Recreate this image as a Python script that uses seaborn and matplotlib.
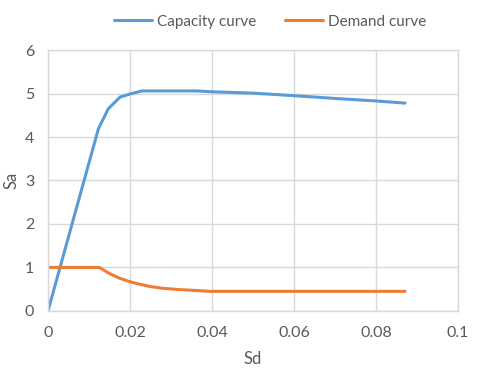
import matplotlib
matplotlib.use("Agg")
import matplotlib.pyplot as plt
import seaborn as sns
import pandas as pd

cap_sd = [0.0, 0.0123, 0.0147, 0.0176, 0.0200, 0.0229, 0.0300, 0.0363, 0.0400, 0.0500, 0.0602, 0.0712, 0.0800, 0.0871]
cap_sa = [0.0, 4.19, 4.65, 4.92, 4.99, 5.06, 5.06, 5.06, 5.04, 5.01, 4.95, 4.88, 4.83, 4.78]

dem_sd = [0.0, 0.0125, 0.0150, 0.0175, 0.0200, 0.0225, 0.0250, 0.0280, 0.0320, 0.0360, 0.0395, 0.0500, 0.0700, 0.0871]
dem_sa = [1.0, 1.0, 0.86, 0.75, 0.67, 0.61, 0.56, 0.52, 0.49, 0.47, 0.45, 0.45, 0.45, 0.45]

labels = ["Capacity curve", "Demand curve"]
colors = ["#5B9BD5", "#ED7D31"]

df = pd.concat([
    pd.DataFrame({"Sd": cap_sd, "Sa": cap_sa, "curve": labels[0]}),
    pd.DataFrame({"Sd": dem_sd, "Sa": dem_sa, "curve": labels[1]}),
])

sns.set_theme(style="whitegrid")
plt.rcParams["font.family"] = ["Lato", "DejaVu Sans"]
txt = "#595959"

fig = plt.figure(figsize=(4.8, 3.71), dpi=100)
ax = fig.add_axes([0.1, 0.162, 0.854, 0.703])
sns.lineplot(data=df, x="Sd", y="Sa", hue="curve", palette=colors, linewidth=2.2,
             sort=False, estimator=None, ax=ax)

ax.set_xlim(0, 0.1)
ax.set_ylim(0, 6)
ax.set_xticks([0, 0.02, 0.04, 0.06, 0.08, 0.1])
ax.set_xticklabels(["0", "0.02", "0.04", "0.06", "0.08", "0.1"])
ax.set_yticks(range(0, 7))
ax.tick_params(axis="x", colors=txt, labelsize=11.5, length=0, pad=11)
ax.tick_params(axis="y", colors=txt, labelsize=11.5, length=0, pad=10)
ax.grid(True, color="#d9d9d9", linewidth=1)
for s in ax.spines.values():
    s.set_color("#d9d9d9")
    s.set_linewidth(1)
ax.set_xlabel("Sd", color=txt, fontsize=12, labelpad=8)
ax.set_ylabel("Sa", color=txt, fontsize=12)
ax.yaxis.set_label_coords(-0.07, 0.5)

ax.legend(loc="lower center", bbox_to_anchor=(0.541, 1.03), ncol=2, frameon=False,
          fontsize=11, handlelength=2.5, columnspacing=1.9, handletextpad=0.3,
          labelcolor=txt)

fig.savefig("out.png", dpi=100, facecolor="white")
